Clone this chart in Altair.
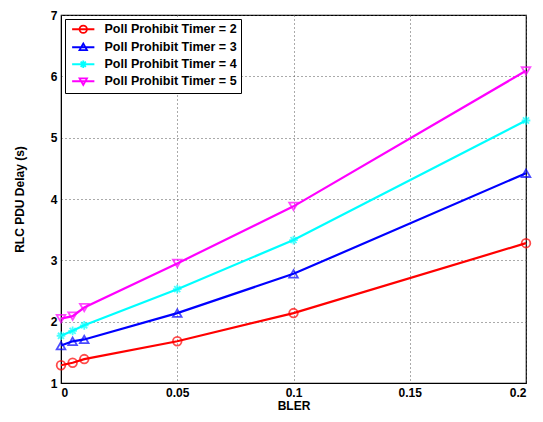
import altair as alt
import pandas as pd

bler = [0, 0.005, 0.01, 0.05, 0.1, 0.2]
series = ["Poll Prohibit Timer = 2", "Poll Prohibit Timer = 3",
          "Poll Prohibit Timer = 4", "Poll Prohibit Timer = 5"]
t2 = [1.29, 1.33, 1.39, 1.68, 2.14, 3.28]
t3 = [1.61, 1.68, 1.71, 2.14, 2.78, 4.42]
t4 = [1.77, 1.85, 1.94, 2.53, 3.33, 5.28]
t5 = [2.05, 2.09, 2.23, 2.95, 3.88, 6.09]
colors = ["#ff0000", "#0000ff", "#00ffff", "#ff00ff"]

ast = "M-1,0L1,0M0,-1L0,1M-0.7,-0.7L0.7,0.7M-0.7,0.7L0.7,-0.7"
marker_shapes = ["circle", "triangle-up", ast, "triangle-down"]
circ = "M1,0A1,1 0 1,1 -1,0A1,1 0 1,1 1,0Z"
tri_up = "M0,-1L1,0.75L-1,0.75Z"
tri_dn = "M0,1L1,-0.75L-1,-0.75Z"
line = "M-3,0L3,0"
legend_shapes = [line + circ, line + tri_up, line + ast, line + tri_dn]

rows = []
for name, vals in zip(series, [t2, t3, t4, t5]):
    for x, y in zip(bler, vals):
        rows.append({"BLER": x, "Delay": y, "Series": name})
df = pd.DataFrame(rows)

FONT = "Liberation Sans"
color_scale = alt.Scale(domain=series, range=colors)
xenc = alt.X("BLER:Q", scale=alt.Scale(domain=[0, 0.2], nice=False),
             axis=alt.Axis(values=[0, 0.05, 0.1, 0.15, 0.2], format="~g",
                           title="BLER"))
yenc = alt.Y("Delay:Q", scale=alt.Scale(domain=[1, 7], nice=False),
             axis=alt.Axis(values=[1, 2, 3, 4, 5, 6, 7], title="RLC PDU Delay (s)",
                           titlePadding=24))

base = alt.Chart(df)
layers = []
for name, col, shp in zip(series, colors, marker_shapes):
    sub = base.transform_filter(alt.datum.Series == name)
    layers.append(sub.mark_line(strokeWidth=2.2, color=col).encode(x=xenc, y=yenc))
    layers.append(
        sub.mark_point(shape=shp, filled=False, size=75, strokeWidth=1.8, color=col)
        .encode(x=xenc, y=yenc)
    )
legend_layer = base.mark_point(opacity=0, filled=False).encode(
    x=xenc, y=yenc,
    color=alt.Color("Series:N", scale=color_scale, legend=alt.Legend(title=None)),
    shape=alt.Shape("Series:N", scale=alt.Scale(domain=series, range=legend_shapes),
                    legend=alt.Legend(title=None)),
)
layers.append(legend_layer)

chart = alt.layer(*layers).properties(
    width=465, height=368, padding={"left": 5, "top": 1, "right": 0, "bottom": 0}
).configure_view(stroke="black", strokeWidth=1.2).configure_axis(
    labelFont=FONT, titleFont=FONT, labelFontWeight="bold", titleFontWeight="bold",
    labelFontSize=12, titleFontSize=12, labelColor="black", titleColor="black",
    domainColor="black", tickColor="black", ticks=False, labelPadding=4,
    grid=True, gridColor="#555555", gridDash=[1, 3], gridWidth=1,
).configure_axisX(titlePadding=2).configure_legend(
    orient="top-left", offset=4, strokeColor="black", fillColor="white",
    padding=4, labelFont=FONT, labelFontWeight="bold", labelFontSize=12.5,
    labelColor="black", symbolSize=55, symbolStrokeWidth=1.8, symbolOffset=8,
    labelOffset=15, rowPadding=2, cornerRadius=0,
)

chart.save("out.html", embed_options={"renderer": "svg", "actions": False})
